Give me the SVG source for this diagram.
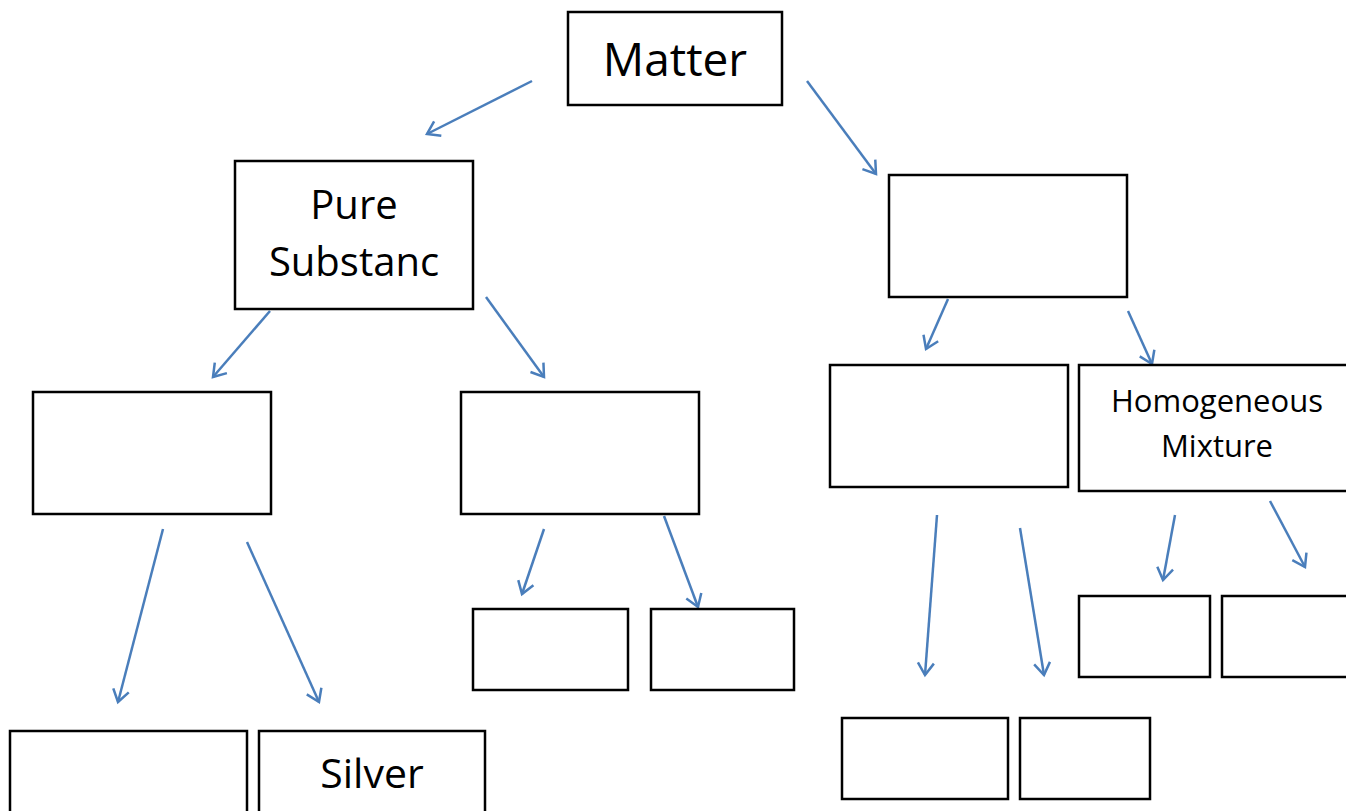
<svg xmlns="http://www.w3.org/2000/svg" width="1346" height="811" viewBox="0 0 1346 811">
<style>
.box{fill:#fff;stroke:#000;stroke-width:2.5}
.lbl{font-family:"Open Sans","Noto Sans",sans-serif;fill:#000;text-anchor:middle}
.arr{stroke:#4a7ebb;stroke-width:2.5;fill:none;marker-end:url(#ah)}
</style>
<defs>
<marker id="ah" markerUnits="userSpaceOnUse" markerWidth="30" markerHeight="30" refX="15" refY="15" orient="auto" viewBox="0 0 30 30">
<path d="M3,7 L15,15 L3,23" fill="none" stroke="#4a7ebb" stroke-width="2.5"/>
</marker>
</defs>
<rect width="1346" height="811" fill="#fff"/>
<g id="connectors">
<line class="arr" x1="532" y1="81" x2="427" y2="134"/>
<line class="arr" x1="807" y1="81" x2="876" y2="174"/>
<line class="arr" x1="270" y1="311" x2="213" y2="377"/>
<line class="arr" x1="486" y1="297" x2="544" y2="377"/>
<line class="arr" x1="948" y1="299" x2="926" y2="349"/>
<line class="arr" x1="1128" y1="311" x2="1152" y2="364"/>
<line class="arr" x1="163" y1="529" x2="118" y2="702"/>
<line class="arr" x1="247" y1="542" x2="319" y2="702"/>
<line class="arr" x1="544" y1="529" x2="522" y2="594"/>
<line class="arr" x1="664" y1="516" x2="698" y2="607"/>
<line class="arr" x1="937" y1="515" x2="925" y2="675"/>
<line class="arr" x1="1020" y1="528" x2="1044" y2="675"/>
<line class="arr" x1="1175" y1="515" x2="1163" y2="580"/>
<line class="arr" x1="1270" y1="501" x2="1305" y2="567"/>
</g>
<g id="matter"><rect class="box" x="568" y="12" width="214" height="93"/><text class="lbl" x="675" y="76" font-size="46">Matter</text></g>
<g id="pure"><rect class="box" x="235" y="161" width="238" height="148"/><text class="lbl" x="354" y="219" font-size="40">Pure</text><text class="lbl" x="354" y="276" font-size="40">Substanc</text></g>
<g id="mixture"><rect class="box" x="889" y="175" width="238" height="122"/></g>
<g id="ps-left"><rect class="box" x="33" y="392" width="238" height="122"/></g>
<g id="ps-right"><rect class="box" x="461" y="392" width="238" height="122"/></g>
<g id="mix-left"><rect class="box" x="830" y="365" width="238" height="122"/></g>
<g id="homogeneous"><rect class="box" x="1079" y="365" width="280" height="126"/><text class="lbl" x="1217" y="412" font-size="31">Homogeneous</text><text class="lbl" x="1217" y="457" font-size="31">Mixture</text></g>
<g id="ps-left-a"><rect class="box" x="10" y="731" width="237" height="100"/></g>
<g id="silver"><rect class="box" x="259" y="731" width="226" height="100"/><text class="lbl" x="372" y="788" font-size="41">Silver</text></g>
<g id="ps-right-a"><rect class="box" x="473" y="609" width="155" height="81"/></g>
<g id="ps-right-b"><rect class="box" x="651" y="609" width="143" height="81"/></g>
<g id="mix-left-a"><rect class="box" x="842" y="718" width="166" height="81"/></g>
<g id="mix-left-b"><rect class="box" x="1020" y="718" width="130" height="81"/></g>
<g id="homo-a"><rect class="box" x="1079" y="596" width="131" height="81"/></g>
<g id="homo-b"><rect class="box" x="1222" y="596" width="140" height="81"/></g>
</svg>
